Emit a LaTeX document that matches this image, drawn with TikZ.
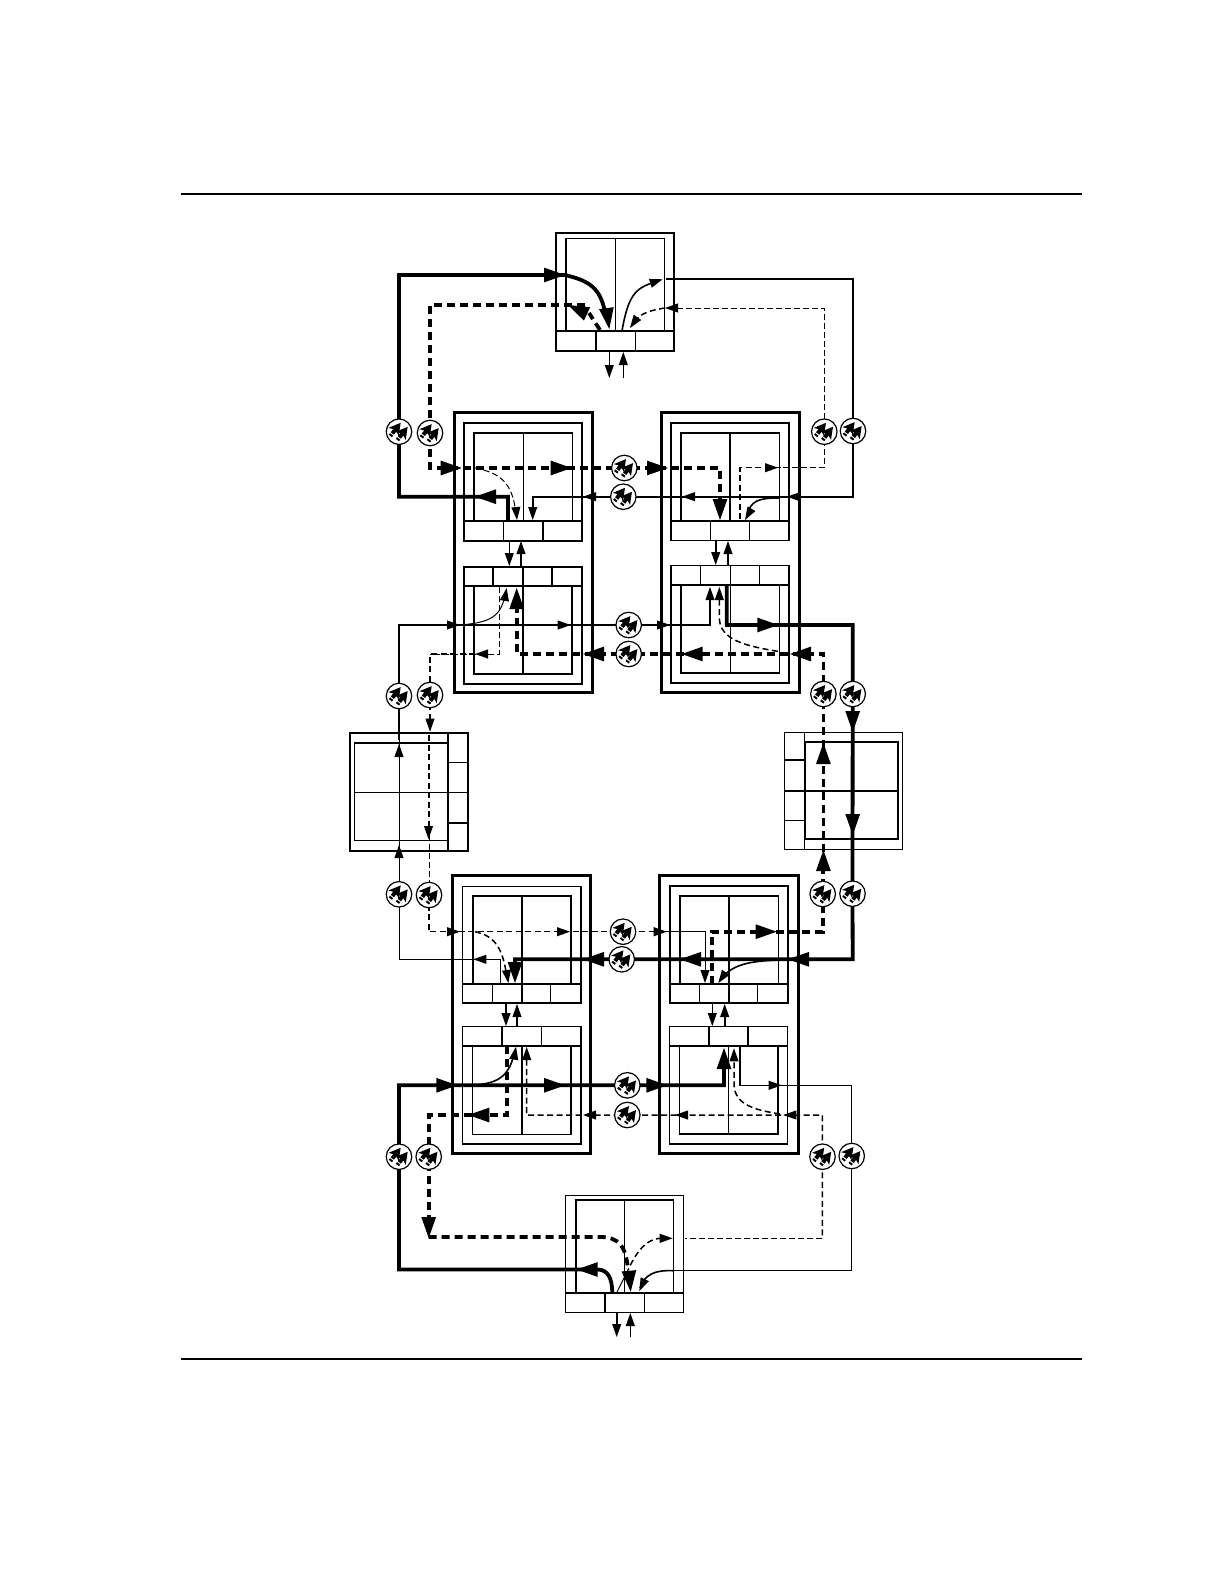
\documentclass[tikz,border=0pt]{standalone}
\pgfdeclarelayer{front}
\pgfdeclarelayer{boxes}
\pgfsetlayers{boxes,main,front}
\tikzset{
  tksol/.style={line width=3.8pt,line join=miter},
  mdsol/.style={line width=1.6pt,line join=miter},
  tnsol/.style={line width=1pt,line join=miter},
  tkdash/.style={line width=3.8pt,dash pattern=on 8pt off 5pt,line join=miter},
  mddash/.style={line width=1.5pt,dash pattern=on 6pt off 3.5pt,line join=miter},
  tndash/.style={line width=1pt,dash pattern=on 6pt off 3pt,line join=miter},
  boxln/.style={line width=1.1pt},
  boxhv/.style={line width=1.7pt},
  frameln/.style={line width=3pt},
  plugc/.style={circle,draw=black,fill=white,line width=1.2pt,minimum size=25.5pt,inner sep=0pt},
  rulebar/.style={line width=2pt}
}
% arrowhead: tip x, y, angle (counter-clockwise on the page), length, half width
\newcommand\hd[5]{\fill[shift={(#1,#2)},rotate=#3] (0,0) -- (-#4,#5) -- (-#4,-#5) -- cycle;}
\newcommand\hS[3]{\hd{#1}{#2}{#3}{13}{4.6}}
\newcommand\hL[3]{\hd{#1}{#2}{#3}{21}{7.4}}
% rectangular box node from corners
\newcommand\bx[6][boxln]{%
  \pgfmathsetmacro\bxa{(#3+#5)/2}\pgfmathsetmacro\bxb{(#4+#6)/2}%
  \pgfmathsetmacro\bxw{#5-#3}\pgfmathsetmacro\bxh{#6-#4}%
  \node[draw,#1,rectangle,inner sep=0pt,outer sep=0pt,minimum width=\bxw pt,minimum height=\bxh pt] (#2) at (\bxa,\bxb) {};}
% connector plug
\newcommand\plug[3]{%
  \node[plugc] (#1) at (#2,#3) {};
  \foreach \sx/\sy in {-4.5/-1,2.5/3}{
  \fill[shift={(#2,#3)},shift={(\sx,\sy)},rotate=52] (10,0) -- (-1.5,6.5) -- (0.5,2) -- (-3.5,2) -- (-3.5,-2) -- (0.5,-2) -- (-1.5,-6.5) -- cycle;
  \fill[shift={(#2,#3)},shift={(\sx,\sy)},rotate=52] (-4.7,2) -- (-6.7,2) -- (-6.7,-2) -- (-4.7,-2) -- cycle;}}
\begin{document}
\begin{tikzpicture}[x=1pt,y=-1pt]
\useasboundingbox (0,0) rectangle (1224,1584);

% rules
\coordinate (ruleAl) at (181,194); \coordinate (ruleAr) at (1082,194);
\coordinate (ruleBl) at (181,1359); \coordinate (ruleBr) at (1082,1359);
\draw[rulebar] (ruleAl) -- (ruleAr);
\draw[rulebar] (ruleBl) -- (ruleBr);

\begin{pgfonlayer}{boxes}
\fill[white] (0,0) rectangle (1224,1584);
% top block
\bx{Tout}{556}{233}{674}{351}
\bx{Tin}{566}{238.5}{664.6}{331}
\bx{Tbar}{556}{331}{674}{351}
\bx[boxhv]{Tcell}{596}{331}{635.5}{351}
\draw[boxln] (Tin.north) -- (Tin.south);

% upper left module
\bx[frameln]{ULf}{454}{412.7}{592.7}{692}
\bx{ULa}{464}{423}{582}{541}
\bx{ULai}{474}{433}{572.7}{521}
\bx{ULab}{464}{521}{582}{541}
\draw[boxln] (503.7,521) -- (503.7,541) (543,521) -- (543,541) (ULai.north) -- (ULai.south);
\bx[boxhv]{ULb}{464}{566.7}{582}{684}
\bx{ULbi}{474}{586}{572}{674}
\bx{ULbb}{464}{566.7}{582}{586}
\draw[boxln] (493,566.7) -- (493,586) (552,566.7) -- (552,586);
\draw[boxhv] (523,566.7) -- (523,674);

% upper right module
\bx[frameln]{URf}{661.7}{412.7}{799}{692}
\bx{URa}{671}{423}{789}{540.5}
\bx{URai}{681}{433}{779.5}{521}
\bx{URab}{671}{521}{789}{540.5}
\draw[boxln] (710.7,521) -- (710.7,540.5) (749.7,521) -- (749.7,540.5);
\draw[boxhv] (URai.north) -- (URai.south);
\bx{URb}{671}{565.7}{789}{683}
\bx{URbi}{681}{585}{779.5}{673}
\bx{URbb}{671}{565.7}{789}{585}
\draw[boxln] (700.7,565.7) -- (700.7,585) (730.3,565.7) -- (730.3,673) (759.7,565.7) -- (759.7,585);
\draw[boxhv] (681,585) -- (681,673);

% left block
\bx[boxhv]{Lout}{350}{733}{468}{851}
\bx{Lin}{354.7}{743}{448}{840.7}
\draw[boxhv] (448,743) -- (448,840.7);
\draw[boxln] (448,733) -- (448,851) (354.7,792.3) -- (468,792.3) (448,762.3) -- (468,762.3);
\draw[boxhv] (448,822.7) -- (468,822.7);

% right block
\bx{Rout}{784.3}{732.3}{902.3}{849.3}
\bx[boxhv]{Rin}{804.7}{742.3}{898.3}{839.3}
\draw[boxln] (804.7,732.3) -- (804.7,849.3) (784.3,760) -- (804.7,760) (784.3,820.7) -- (804.7,820.7);
\draw[boxhv] (784.3,790.7) -- (898.3,790.7);

% lower left module
\bx[frameln]{LLf}{452.3}{875}{590.7}{1153}
\bx{LLa}{462.7}{886.7}{581}{1003}
\bx[boxhv]{LLai}{472.7}{895.7}{571}{984}
\bx{LLab}{462.7}{984}{581}{1003}
\draw[boxln] (492.7,984) -- (492.7,1003) (550.7,984) -- (550.7,1003);
\draw[boxhv] (522,895.7) -- (522,1003);
\bx{LLb}{462.7}{1026.7}{581}{1144}
\bx{LLbi}{472.7}{1046}{571}{1134.7}
\bx{LLbb}{462.7}{1026.7}{581}{1046}
\draw[boxln] (502,1026.7) -- (502,1046) (541.7,1026.7) -- (541.7,1046);
\draw[boxhv] (522,1046) -- (522,1134.7);

% lower right module
\bx[frameln]{LRf}{659}{875}{798}{1153}
\bx[boxhv]{LRa}{670}{886}{788}{1003}
\bx[boxhv]{LRai}{680}{895.7}{778.5}{984}
\bx{LRab}{670}{984}{788}{1003}
\draw[boxln] (699.7,984) -- (699.7,1003) (757.7,984) -- (757.7,1003) (729,895.7) -- (729,984);
\draw[boxhv] (729,984) -- (729,1003);
\bx{LRb}{669.3}{1026.7}{787.5}{1144}
\bx{LRbi}{679.7}{1046}{778}{1134}
\bx{LRbb}{669.3}{1026.7}{787.5}{1046}
\draw[boxln] (709,1026.7) -- (709,1046) (748,1026.7) -- (748,1046) (728.7,1046) -- (728.7,1134);

% bottom block
\bx{Bout}{565.3}{1195.3}{683.3}{1312.3}
\bx{Bin}{576}{1200}{673.7}{1292.7}
\draw[boxhv] (576,1200) -- (673.7,1200) (576,1200) -- (576,1292.7) (565.3,1292.7) -- (683.3,1292.7);
\bx{Bbar}{565.3}{1292.7}{683.3}{1312.3}
\draw[boxln] (605,1292.7) -- (605,1312.3) (644.3,1292.7) -- (644.3,1312.3) (624.7,1200) -- (624.7,1292.7);
\end{pgfonlayer}

\begin{pgfonlayer}{front}
\plug{pA1}{399}{431.7} \plug{pA2}{430}{433} \plug{pA3}{824.3}{431.7} \plug{pA4}{853}{431}
\plug{pB1}{624.3}{468} \plug{pB2}{623.3}{496.7}
\plug{pC1}{628.7}{625} \plug{pC2}{628.7}{654}
\plug{pD1}{399}{696} \plug{pD2}{430}{695} \plug{pD3}{823.4}{694} \plug{pD4}{852.7}{694}
\plug{pE1}{399}{894.3} \plug{pE2}{429}{895} \plug{pE3}{822.7}{894} \plug{pE4}{852.5}{893.7}
\plug{pF1}{623}{931.7} \plug{pF2}{621.7}{959.3}
\plug{pG1}{627.3}{1085.3} \plug{pG2}{627.3}{1115}
\plug{pH1}{399}{1156.7} \plug{pH2}{428.7}{1156.7} \plug{pH3}{822.5}{1156.7} \plug{pH4}{851.7}{1156}
\end{pgfonlayer}

% route corners
\foreach \n/\x/\y in {
 a1/508/521, a2/508/496.7, a3/399/496.7, a4/399/275, a5/565/275,
 b1/430/305.3, b2/430/468, b3/720/468, b4/720/508, b5/585/305.3,
 c1/666/279, c2/853/279, c3/853/496.7, c4/532.7/496.7, c5/532.7/516,
 d1/677/308, d2/824.3/308, d3/824.3/467.7, d4/740/467.7, d5/740/521,
 e1/399/625, e2/710/625, e3/710/590, e4/399/740, e5/399/895, e6/399/959.3, e7/500.7/959.3, e8/500.7/984,
 f1/499.3/587, f2/499.3/654, f3/430/654, f4/430/725, f5/429/735, f6/429/835, f7/429/895, f8/429/931.7, f9/705/931.7, f10/705/978,
 g1/516.7/605, g2/516.7/654, g3/823.4/654, g4/823.4/760, g5/823.4/870,
 h1/726.7/586, h2/726.7/625, h3/852.7/625, h4/852.7/959.3, h5/515/959.3, h6/515/970,
 i1/711.7/984, i2/711.7/931.7, i3/822.7/931.7, i4/822.7/870,
 j1/399/1085.3, j2/724/1085.3, j3/724/1066, j4/399/1269.5, j5/598/1269.5,
 k1/507/1046, k2/507/1115, k3/428.7/1115, k4/428.7/1225, k5/428.7/1237, k6/600/1237,
 l1/526.7/1050, l2/526.7/1115, l3/822.4/1115, l4/822.4/1238.3, l5/685/1238.3,
 m1/740/1046, m2/740/1085.3, m3/851.7/1085.3, m4/851.7/1270.7, m5/673/1270.7,
 n1/609.3/351, n2/609.3/370, n3/623.3/378, n4/623.3/360,
 o1/509.3/541, o2/509.3/560, o3/521/566, o4/521/548,
 q1/715.7/541, q2/715.7/560, q3/728/565, q4/728/548,
 r1/506/1003, r2/506/1020, r3/517/1026, r4/517/1010,
 s1/712.3/1003, s2/712.3/1020, s3/724.7/1026, s4/724.7/1010,
 t1/616.7/1312, t2/616.7/1330, t3/630.3/1337, t4/630.3/1320}
 {\coordinate (\n) at (\x,\y);}

% solid heavy routes
\draw[tksol] (a1) -- (a2) -- (a3) -- (pA1.center) -- (a4) -- (a5) .. controls (590,281) and (600,288) .. (605,312);
\draw[tksol] (h1) -- (h2) -- (h3) -- (pD4.center) -- (pE4.center) -- (h4) -- (pF2.center) -- (h5) -- (h6);
\draw[tksol] (j3) -- (j2) -- (pG1.center) -- (j1) -- (pH1.center) -- (j4) -- (j5) .. controls (608,1270) and (612,1278) .. (612.3,1292.7);

% heavy dashed routes
\draw[tkdash] (b5) -- (b1) -- (pA2.center) -- (b2) -- (pB1.center) -- (b3) -- (b4);
\draw[tkdash] (600,330) -- (589,313);
\draw[tkdash] (g1) -- (g2) -- (pC2.center) -- (g3) -- (pD3.center) -- (g4) -- (g5);
\draw[tkdash] (i1) -- (i2) -- (i3) -- (pE3.center) -- (i4);
\draw[tkdash] (k1) -- (k2) -- (k3) -- (pH2.center) -- (k4);
\draw[tkdash] (k5) -- (k6) .. controls (618,1237) and (626,1245) .. (628,1270);

% medium and thin solid routes
\draw[mdsol] (c1) -- (c2) -- (pA4.center) -- (c3) -- (pB2.center) -- (c4) -- (c5);
\draw[mdsol] (779,498) .. controls (760,498) and (750,500) .. (747,516);
\draw[mdsol] (622,331) .. controls (628,296) and (635,288) .. (655,282);
\draw[mdsol] (e3) -- (e2) -- (pC1.center) -- (e1) -- (pD1.center) -- (e4);
\draw[tnsol] (e5) -- (e4);
\draw[tnsol] (e5) -- (e6) -- (e7) -- (e8);
\draw[tnsol] (461,625) .. controls (490,622) and (502,618) .. (506,590);
\draw[mdsol] (780,960) .. controls (750,961) and (732,964) .. (720,980);
\draw[mdsol] (475,1085) .. controls (500,1083) and (510,1075) .. (515,1050);
\draw[mdsol] (m1) -- (m2) -- (775,1085.3);
\draw[tnsol] (775,1085.3) -- (m3) -- (pH4.center) -- (m4) -- (m5);
\draw[mdsol] (m5) .. controls (655,1270) and (645,1274) .. (640,1288);

% dashed light routes
\draw[tndash] (d1) -- (d2) -- (pA3.center) -- (d3) -- (780,467.7);
\draw[mddash] (780,467.7) -- (d4) -- (d5);
\draw[mddash] (665,308) .. controls (645,311) and (636,316) .. (632,326);
\draw[tndash] (475,468) .. controls (500,473) and (513,482) .. (516,515);
\draw[tndash] (f1) -- (f2) -- (f3);
\draw[mddash] (475,654) -- (f3) -- (pD2.center) -- (f4);
\draw[mddash] (f5) -- (f6);
\draw[tndash] (f6) -- (pE2.center) -- (f7);
\draw[mddash] (f7) -- (f8) -- (pF1.center) -- (665,931.7);
\draw[tnsol] (665,931.7) -- (f9) -- (f10);
\draw[mddash] (719.3,590) -- (719.3,618) .. controls (720,640) and (745,646) .. (780,651.7);
\draw[mddash] (475,931.7) .. controls (495,936) and (503,948) .. (507,978);
\draw[mddash] (l1) -- (l2) -- (pG2.center) -- (l3) -- (pH3.center) -- (l4);
\draw[tndash] (l4) -- (l5);
\draw[mddash] (780,1114) .. controls (755,1110) and (735,1105) .. (734,1085) -- (734,1052);
\draw[mddash] (662,1238.3) .. controls (645,1238) and (635,1255) .. (628,1270);
\draw[tnsol] (628,1270) -- (616.7,1292.7);

% short arrows between blocks
\draw[mdsol] (n1) -- (n2); \draw[mdsol] (n3) -- (n4);
\draw[mdsol] (o1) -- (o2); \draw[mdsol] (o3) -- (o4);
\draw[mdsol] (q1) -- (q2); \draw[mdsol] (q3) -- (q4);
\draw[mdsol] (r1) -- (r2); \draw[mdsol] (r3) -- (r4);
\draw[mdsol] (s1) -- (s2); \draw[mdsol] (s3) -- (s4);
\draw[mdsol] (t1) -- (t2); \draw[mdsol] (t3) -- (t4);

% arrowheads: top
\hL{565}{275}{0} \hL{609.3}{329}{-82} \hL{568}{305}{155}
\hS{662.7}{279.3}{18} \hS{665}{308}{180}\hS{630}{328}{-125}
\hS{609.3}{378}{-90} \hS{623.3}{352}{90}
% upper row
\hL{475}{496.7}{180} \hL{461.7}{468}{0} \hL{571.7}{468}{0} \hL{668}{468}{0} \hL{720}{520}{-90}
\hS{787}{496.7}{180} \hS{682}{496.7}{180} \hS{583}{496.7}{180} \hS{532.7}{520}{-90}
\hS{745}{520}{-120} \hS{778}{467.7}{0} \hS{517}{520}{-85}
\hS{509.3}{566}{-90} \hS{521}{541}{90} \hS{715.7}{565}{-90} \hS{728}{541}{90}
% second row
\hS{460}{625}{0} \hS{570.7}{625}{0} \hS{670}{625}{0} \hS{710}{587}{90} \hS{506.7}{588}{80}
\hS{475}{654}{180} \hS{719.3}{587}{90}
\hL{516.7}{588}{90} \hL{583}{654}{180} \hL{681.7}{654}{180} \hL{790}{654}{180} \hL{778.3}{625}{0}
% left block and right block
\hS{399}{744}{90} \hS{399}{845}{90} \hS{430}{731.7}{-90} \hS{428.5}{839}{-90}
\hL{823.4}{743}{90} \hL{823.4}{850}{90} \hL{852.7}{732}{-90} \hL{852.7}{835}{-90}
% third row
\hS{460}{931.7}{0} \hS{570}{931.7}{0} \hS{666.7}{931.7}{0} \hS{705}{983}{-90} \hS{508.3}{983}{-82}
\hS{473.3}{959.3}{180} \hS{718.3}{983}{-125}
\hL{776.7}{931.7}{0} \hL{788}{959.3}{180} \hL{680}{959.3}{180} \hL{583}{959.3}{180} \hL{515}{983}{-90}
\hS{506}{1026}{-90} \hS{517}{1004}{90} \hS{712.3}{1026}{-90} \hS{724.7}{1004}{90}
% fourth row
\hL{457.3}{1085.3}{0} \hL{565}{1085.3}{0} \hL{667.3}{1085.3}{0} \hL{724}{1048}{90}
\hS{516}{1046.7}{80} \hS{526.7}{1047}{90} \hL{468.3}{1115}{180}
\hS{583}{1115}{180} \hS{675}{1115}{180} \hS{783.3}{1115}{180} \hS{734}{1048.3}{90} \hS{781.7}{1085.3}{0}
% bottom
\hL{428.7}{1238}{-90} \hL{576.7}{1269.5}{180} \hL{630.7}{1291.7}{-85}
\hS{672.7}{1238.3}{0} \hS{639.3}{1291}{-115}
\hS{616.7}{1337}{-90} \hS{630.3}{1313}{90}
\end{tikzpicture}
\end{document}
